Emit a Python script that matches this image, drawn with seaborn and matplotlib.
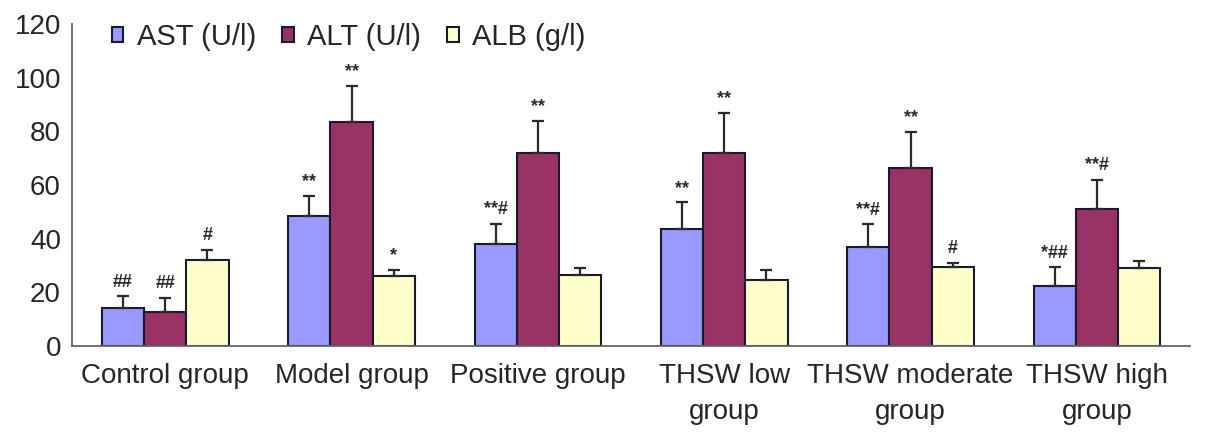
import matplotlib
matplotlib.use("Agg")
import matplotlib.pyplot as plt
import seaborn as sns
import pandas as pd
import numpy as np

# data
groups = ["Control group", "Model group", "Positive group",
          "THSW low\ngroup", "THSW moderate\ngroup", "THSW high\ngroup"]
series = ["AST (U/l)", "ALT (U/l)", "ALB (g/l)"]
ast_mean = [14, 48.5, 38, 43.5, 37, 22.5]
ast_sd = [4.6, 7.5, 7.5, 10, 8.3, 6.8]
alt_mean = [12.5, 83.5, 72, 72, 66.5, 51]
alt_sd = [5.5, 13.5, 12, 14.8, 13.3, 11]
alb_mean = [32, 26, 26.5, 24.6, 29.3, 29]
alb_sd = [3.8, 2.5, 2.5, 3.7, 1.7, 2.7]
ast_marks = ["##", "**", "**#", "**", "**#", "*##"]
alt_marks = ["##", "**", "**", "**", "**", "**#"]
alb_marks = ["#", "*", "", "", "#", ""]

colors = ["#9999FF", "#993366", "#FFFFCC"]

df = pd.DataFrame({
    "group": groups * 3,
    "series": [s for s in series for _ in groups],
    "value": ast_mean + alt_mean + alb_mean,
})
errs = [ast_sd, alt_sd, alb_sd]
marks = [ast_marks, alt_marks, alb_marks]

sns.set_style("white")
plt.rcParams["font.family"] = ["Liberation Sans", "DejaVu Sans"]

fig = plt.figure(figsize=(12.05, 4.41), dpi=100)
ax = fig.add_axes([0.0598, 0.2154, 0.9278, 0.7302])

sns.barplot(data=df, x="group", y="value", hue="series", palette=colors,
            saturation=1, width=0.68, gap=0, edgecolor="#1a1a2e", linewidth=1.5,
            errorbar=None, ax=ax)

# error bars (upper only) and significance marks
for cont, sd, mk in zip(ax.containers, errs, marks):
    for bar, e, m in zip(cont, sd, mk):
        x = bar.get_x() + bar.get_width() / 2
        h = bar.get_height()
        ax.errorbar(x, h, yerr=[[0], [e]], fmt="none", ecolor="#2a2a2a",
                    elinewidth=1.6, capsize=4, capthick=1.6, zorder=3)
        if m:
            ax.annotate(m, (x, h + e), xytext=(0, 4), textcoords="offset points",
                        ha="center", va="bottom", fontsize=13,
                        fontweight="bold", color="#2a2a2a")

ax.set_ylim(0, 120)
ax.set_yticks(range(0, 121, 20))
ax.set_xlim(-0.5, len(groups) - 0.5)
ax.set_xlabel("")
ax.set_ylabel("")
ax.tick_params(axis="y", direction="in", length=5, labelsize=20, color="#777777",
               pad=8)
ax.tick_params(axis="x", length=0, labelsize=20, pad=12)
for lab in ax.get_xticklabels():
    lab.set_linespacing(1.5)
ax.set_xticks(np.arange(-0.5, len(groups), 1.0), minor=True)
ax.tick_params(axis="x", which="minor", direction="in", length=5, color="#777777")
for s in ["top", "right"]:
    ax.spines[s].set_visible(False)
for s in ["left", "bottom"]:
    ax.spines[s].set_color("#666666")
    ax.spines[s].set_linewidth(1.3)

sns.move_legend(ax, "upper left", bbox_to_anchor=(0.012, 1.085), ncol=3,
                frameon=False, title=None, fontsize=21, handlelength=0.4,
                handleheight=0.4, handletextpad=0.45, columnspacing=0.9)

fig.savefig("out.png", dpi=100)
